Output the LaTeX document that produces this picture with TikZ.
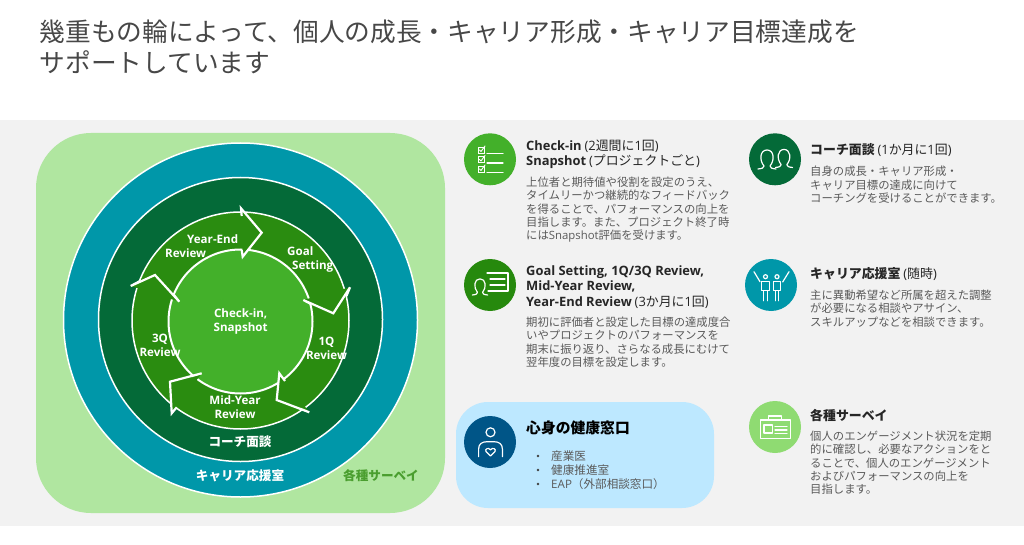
\documentclass[tikz,border=0pt]{standalone}
\usepackage{fontspec}
\setmainfont{Noto Sans CJK JP}
\newfontfamily\osfont{Open Sans}
\newcommand{\en}[1]{{\osfont #1}}
\definecolor{bandbg}{HTML}{F2F2F2}
\definecolor{lightgreen}{HTML}{B0E6A0}
\definecolor{teal}{HTML}{0097A9}
\definecolor{darkgreen}{HTML}{046A38}
\definecolor{midgreen}{HTML}{2A8C10}
\definecolor{coregreen}{HTML}{43B02A}
\definecolor{navy}{HTML}{005587}
\definecolor{skyblue}{HTML}{BDE8FF}
\definecolor{survey}{HTML}{8FDB72}
\definecolor{surveytext}{HTML}{4A9E2F}
\definecolor{bodygray}{HTML}{5A5A5A}
\definecolor{icontwo}{HTML}{26890D}
\tikzset{
  disc/.style={draw=white,line width=1.5pt},
  chev/.style={draw=white,line width=2.2pt,line join=miter,miter limit=10},
  headfill/.style={fill=midgreen,draw=none},
  ringlabel/.style={text=white,font=\osfont\bfseries\fontsize{11.6}{14}\selectfont,align=center,inner sep=0pt},
  ringlabelleft/.style={ringlabel,align=left},
  bandlabel/.style={text=white,font=\bfseries\fontsize{12.6}{15}\selectfont,inner sep=0pt},
  head/.style={anchor=north west,inner sep=0pt,align=left,text=black!85,font=\fontsize{12.9}{15.4}\selectfont},
  body/.style={anchor=north west,inner sep=0pt,align=left,text=bodygray,font=\fontsize{11.35}{13.4}\selectfont},
  icondisc/.style={circle,minimum size=52pt,inner sep=0pt,fill=#1},
  ic/.style={draw=white,line width=1.2pt,line cap=round,line join=round}
}
\newcommand{\omegaicon}[3]{% centre x, baseline y, scale
  \begin{scope}[shift={(#1,#2)},scale=#3]
    \draw[ic] (-9,0) .. controls (-5,-0.5) and (-3,-1) .. (-3,-3) .. controls (-8,-9) and (-7,-19) .. (0,-19) .. controls (7,-19) and (8,-9) .. (3,-3) .. controls (3,-1) and (5,-0.5) .. (9,0);
  \end{scope}}
\begin{document}
\begin{tikzpicture}[x=1pt,y=-1pt]
\useasboundingbox (0,0) rectangle (1024,545);
\fill[white] (0,0) rectangle (1024,545);
\fill[bandbg] (0,120) rectangle (1024,526);

\node[anchor=north west,inner sep=0pt,align=left,text=black!72,font=\fontsize{25.7}{31}\selectfont] (title) at (39.5,19.5) {幾重もの輪によって、個人の成長・キャリア形成・キャリア目標達成を\\サポートしています};

% concentric diagram
\fill[lightgreen,rounded corners=55pt] (36,133) rectangle (445,513);
\node[circle,disc,fill=teal,minimum size=354pt,inner sep=0pt] (career) at (240.5,320) {};
\node[circle,disc,fill=darkgreen,minimum size=284pt,inner sep=0pt] (coach) at (240.5,319.5) {};
\node[circle,disc,fill=midgreen,minimum size=217pt,inner sep=0pt] (cycle) at (240.5,320.5) {};
\node[circle,disc,line width=2pt,fill=coregreen,minimum size=144pt,inner sep=0pt] (core) at (240.5,321.5) {};

% arrow heads
\fill[headfill] (241,208.3) -- (261.7,232.7) -- (242.7,256.7) -- cycle;
\draw[chev] (241.7,216) -- (241,208.3) -- (261.7,232.7) -- (242.7,256.7) -- (241.7,250);
\fill[headfill] (350,287.3) -- (333.3,313.3) -- (303.3,300) -- cycle;
\draw[chev] (346.5,296) -- (350,287.3) -- (333.3,313.3) -- (303.3,300) -- (311,304);
\fill[headfill] (309.3,412.3) -- (276.7,400) -- (279.3,373.3) -- cycle;
\draw[chev] (301,409) -- (309.3,412.3) -- (276.7,400) -- (279.3,373.3) -- (285,381);
\fill[headfill] (171.7,413.3) -- (170,381.7) -- (201.7,373.3) -- cycle;
\draw[chev] (176.7,407.3) -- (171.7,413.3) -- (170,381.7) -- (201.7,373.3) -- (192,376);
\fill[headfill] (130.7,286) -- (155,275) -- (179.3,301.7) -- cycle;
\draw[chev] (140,281) -- (130.7,286) -- (155,275) -- (179.3,301.7) -- (174,295);

% cycle labels
\node[ringlabelleft,anchor=west] (lyearend) at (165,246) {\hspace*{22pt}Year-End\\Review};
\node[ringlabelleft,anchor=west] (lgoal) at (287,259.5) {Goal\\\hspace*{5pt}Setting};
\node[ringlabel] (l1q) at (326.5,348.5) {1Q\\Review};
\node[ringlabel] (lmid) at (235,407) {Mid-Year\\Review};
\node[ringlabel] (l3q) at (160,345) {3Q\\Review};
\node[ringlabel] (lcore) at (240.7,321.7) {Check-in,\\Snapshot};
\node[bandlabel] (lcoach) at (240,442) {コーチ面談};
\node[bandlabel] (lcareer) at (240,476) {キャリア応援室};
\node[bandlabel,text=surveytext] (lsurvey) at (381,476) {各種サーベイ};

% item 1
\node[icondisc=coregreen] (ic1) at (490,159.3) {};
\foreach \yy in {150,159.5,169}{
  \draw[white,line width=.9pt] (478.5,\yy-3) rectangle (484,\yy+3);
  \draw[ic,line width=.9pt] (479.5,\yy) -- (481,\yy+1.5) -- (485,\yy-4);
  \draw[ic] (487,\yy+3.5) -- (503,\yy+3.5);
}
\node[head] (h1) at (526,139.5) {\textbf{\en{Check-in}} \en{(2}週間に\en{1}回\en{)}\\\textbf{\en{Snapshot}} \en{(}プロジェクトごと\en{)}};
\node[body] (b1) at (526,176.5) {上位者と期待値や役割を設定のうえ、\\タイムリーかつ継続的なフィードバック\\を得ることで、パフォーマンスの向上を\\目指します。また、プロジェクト終了時\\には\en{Snapshot}評価を受けます。};

% item 2
\node[icondisc=icontwo] (ic2) at (490,285) {};
\draw[ic] (487,273) -- (508,273) -- (508,291) -- (488,291);
\draw[ic] (490,279) -- (505,279) (490,285) -- (505,285);
\omegaicon{480}{295}{0.85}
\node[head] (h2) at (526,265.5) {\textbf{\en{Goal Setting, 1Q/3Q Review,}}\\\textbf{\en{Mid-Year Review,}}\\\textbf{\en{Year-End Review}} \en{(3}か月に\en{1}回\en{)}};
\node[body] (b2) at (526,316.5) {期初に評価者と設定した目標の達成度合\\いやプロジェクトのパフォーマンスを\\期末に振り返り、さらなる成長にむけて\\翌年度の目標を設定します。};

% item 3
\node[icondisc=darkgreen] (ic3) at (775,159.3) {};
\omegaicon{767}{169}{1}
\omegaicon{784}{167.5}{0.95}
\node[head] (h3) at (810,143.5) {\textbf{コーチ面談} \en{(1}か月に\en{1}回\en{)}};
\node[body] (b3) at (810,166) {自身の成長・キャリア形成・\\キャリア目標の達成に向けて\\コーチングを受けることができます。};

% item 4
\node[icondisc=teal] (ic4) at (771,285) {};
\foreach \xx in {765.5,777}{
  \draw[ic] (\xx,276.7) circle (2);
  \draw[ic] (\xx-3.8,290.7) rectangle (\xx+3.8,281.7);
  \draw[ic] (\xx-1.8,290.7) -- (\xx-1.8,300.7) (\xx+1.8,290.7) -- (\xx+1.8,300.7);
}
\draw[ic] (754,271.7) -- (760,281.7) (789,271.7) -- (782.7,282);
\node[head] (h4) at (810,267.5) {\textbf{キャリア応援室} \en{(}随時\en{)}};
\node[body] (b4) at (810,289.5) {主に異動希望など所属を超えた調整\\が必要になる相談やアサイン、\\スキルアップなどを相談できます。};

% item 5
\fill[skyblue,rounded corners=32pt] (456,402) rectangle (714,508);
\node[icondisc=navy] (ic5) at (490,442) {};
\draw[ic] (490.5,432.3) circle (4.5);
\draw[ic] (478.6,456.7) -- (478.6,449) .. controls (478.6,444) and (482,441.7) .. (487,441.7) -- (494,441.7) .. controls (499,441.7) and (502.4,444) .. (502.4,449) -- (502.4,456.7);
\draw[ic] (490.5,456) -- (486,451.5) .. controls (484.5,449) and (488.5,447) .. (490.5,449.8) .. controls (492.5,447) and (496.5,449) .. (495,451.5) -- cycle;
\node[anchor=north west,inner sep=0pt,text=black,font=\bfseries\fontsize{14.8}{18}\selectfont] (h5) at (526,421) {心身の健康窓口};
\node[body,font=\fontsize{11.6}{14}\selectfont] (b5) at (551,450.5) {産業医\\健康推進室\\\en{EAP}（外部相談窓口）};
\foreach \yy in {456,470,484}{\fill[black!75] (538,\yy) circle (1.4);}

% item 6
\node[icondisc=survey] (ic6) at (775,427) {};
\draw[ic] (768.7,420) -- (768.7,416) -- (781.5,416) -- (781.5,420);
\draw[ic] (760.6,420) rectangle (790.7,438.3);
\draw[ic] (764,425) rectangle (772.3,433);
\draw[ic] (775,426.7) -- (787,426.7) (775,430) -- (787,430) (775,433.3) -- (787,433.3);
\node[head] (h6) at (810,409.5) {\textbf{各種サーベイ}};
\node[body] (b6) at (810,430.5) {個人のエンゲージメント状況を定期\\的に確認し、必要なアクションをと\\ることで、個人のエンゲージメント\\およびパフォーマンスの向上を\\目指します。};
\end{tikzpicture}
\end{document}
